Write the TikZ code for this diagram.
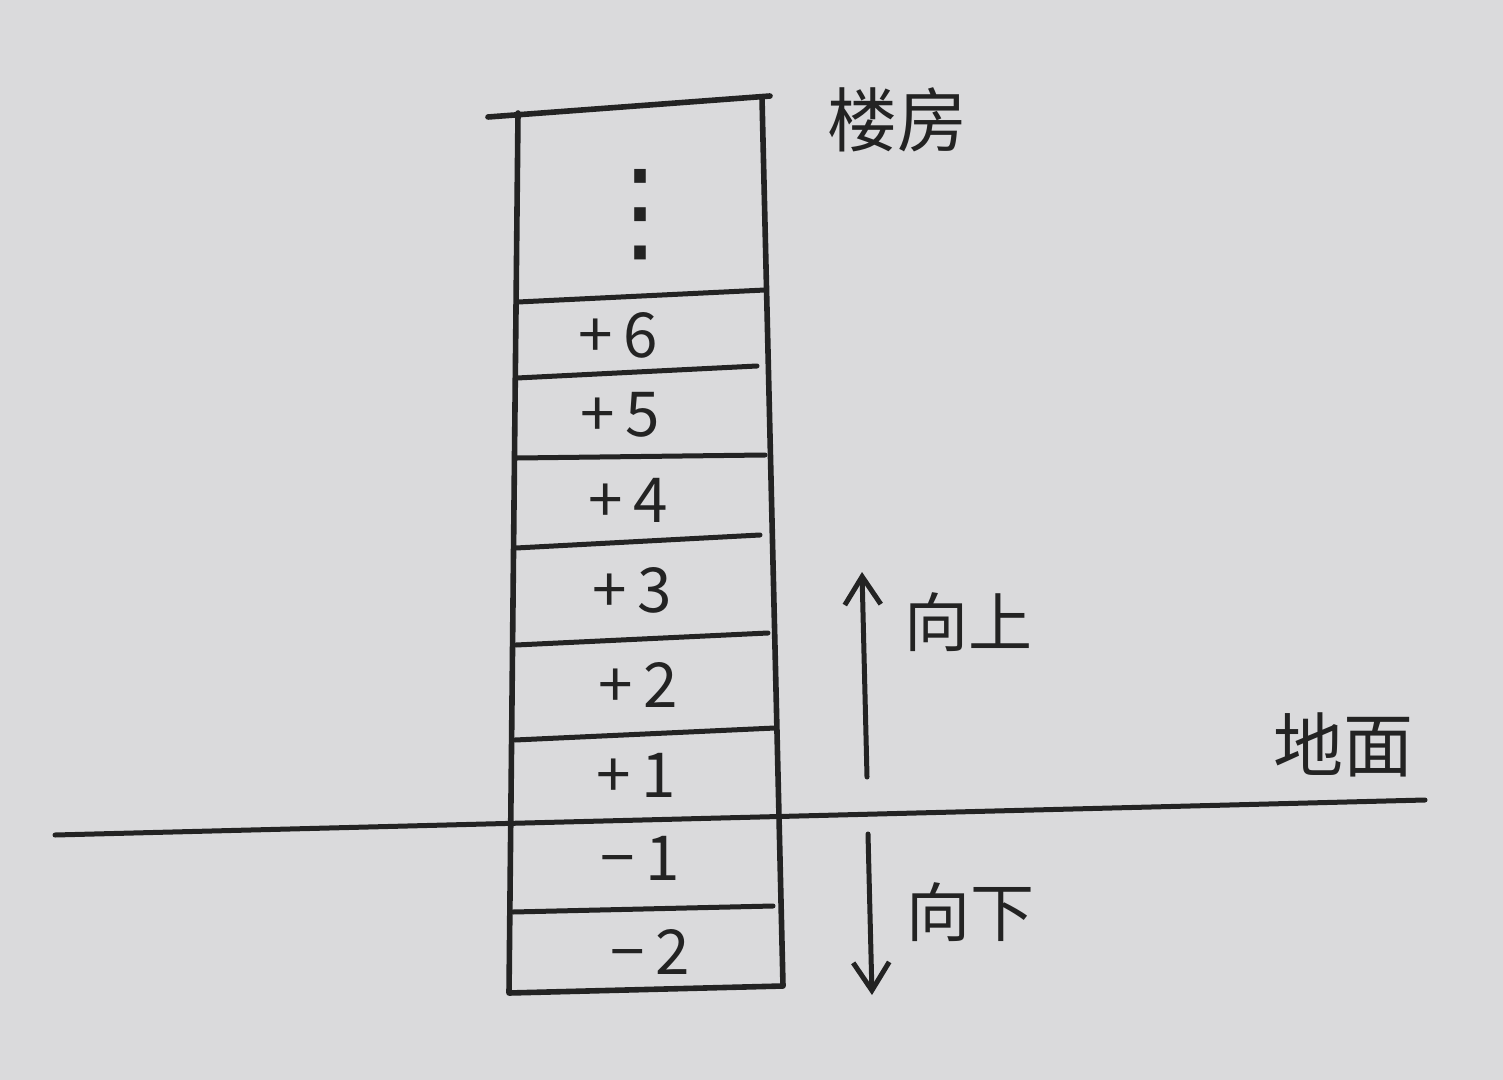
\documentclass[tikz,border=0pt]{standalone}
\usepackage{fontspec}
\newfontfamily\cjk{Noto Sans CJK SC}
\newfontfamily\symf{DejaVu Sans}
\usetikzlibrary{arrows.meta}
\definecolor{paper}{HTML}{DADADC}
\definecolor{ink}{HTML}{232323}
\tikzset{
  wall/.style={draw=ink, line width=2.8pt, line cap=round, line join=round},
  floorline/.style={draw=ink, line width=2.5pt, line cap=round},
  floorlabel/.style={text=ink, font=\cjk\fontsize{31}{31}\selectfont, inner sep=0pt},
  bigtext/.style={text=ink, font=\cjk\fontsize{35}{35}\selectfont, inner sep=0pt},
  dirtext/.style={text=ink, font=\cjk\fontsize{32}{32}\selectfont, inner sep=0pt},
  dirarrow/.style={draw=ink, line width=2.5pt, line cap=round, -{Straight Barb[length=14pt, width=18pt, line width=2.5pt]}},
}
\begin{document}
\begin{tikzpicture}[x=0.5pt, y=-0.5pt]
  \fill[paper] (0,0) rectangle (1503,1080);
  \useasboundingbox (0,0) rectangle (1503,1080);

  % building corners
  \coordinate (tl0) at (488,117);
  \coordinate (tl) at (518,113);
  \coordinate (tr) at (770,96);
  \coordinate (br) at (783,986);
  \coordinate (bl) at (509,993);

  % outline
  \draw[wall] (tl0) -- (tr);
  \draw[wall] (tl) -- (bl) -- (br) -- (762,98);

  % floor lines
  \coordinate (f6l) at (518,302); \coordinate (f6r) at (765,290);
  \coordinate (f5l) at (517,378); \coordinate (f5r) at (757,366);
  \coordinate (f4l) at (517,458); \coordinate (f4r) at (765,455);
  \coordinate (f3l) at (516,548); \coordinate (f3r) at (760,535);
  \coordinate (f2l) at (516,645); \coordinate (f2r) at (768,633);
  \coordinate (f1l) at (515,740); \coordinate (f1r) at (775,728);
  \coordinate (b1l) at (513,912); \coordinate (b1r) at (773,906);
  \draw[floorline] (f6l) -- (f6r);
  \draw[floorline] (f5l) -- (f5r);
  \draw[floorline] (f4l) -- (f4r);
  \draw[floorline] (f3l) -- (f3r);
  \draw[floorline] (f2l) -- (f2r);
  \draw[floorline] (f1l) -- (f1r);
  \draw[floorline] (b1l) -- (b1r);

  % ground
  \coordinate (g0) at (55,835);
  \coordinate (g1) at (1425,800);
  \draw[floorline] (g0) -- (g1);

  % labels
  \node[text=ink, font=\symf\fontsize{56}{56}\selectfont, inner sep=0pt] (dots) at (640,215) {⋮};
  \node[floorlabel] (l6) at (618,335) {+\,6};
  \node[floorlabel] (l5) at (620,415) {+\,5};
  \node[floorlabel] (l4) at (628,500) {+\,4};
  \node[floorlabel] (l3) at (632,590) {+\,3};
  \node[floorlabel] (l2) at (638,685) {+\,2};
  \node[floorlabel] (l1) at (636,775) {+\,1};
  \node[floorlabel] (m1) at (640,858) {−\,1};
  \node[floorlabel] (m2) at (650,952) {−\,2};

  \node[bigtext] (lou) at (897,120) {楼房};
  \node[bigtext] (dimian) at (1343,745) {地面};

  % direction arrows
  \coordinate (ua) at (867,777);
  \coordinate (ub) at (862,572);
  \coordinate (da) at (868,834);
  \coordinate (db) at (872,995);
  \draw[dirarrow] (ua) -- (ub);
  \draw[dirarrow] (da) -- (db);
  \node[dirtext] (up) at (968,622) {向上};
  \node[dirtext] (down) at (970,912) {向下};
\end{tikzpicture}
\end{document}
